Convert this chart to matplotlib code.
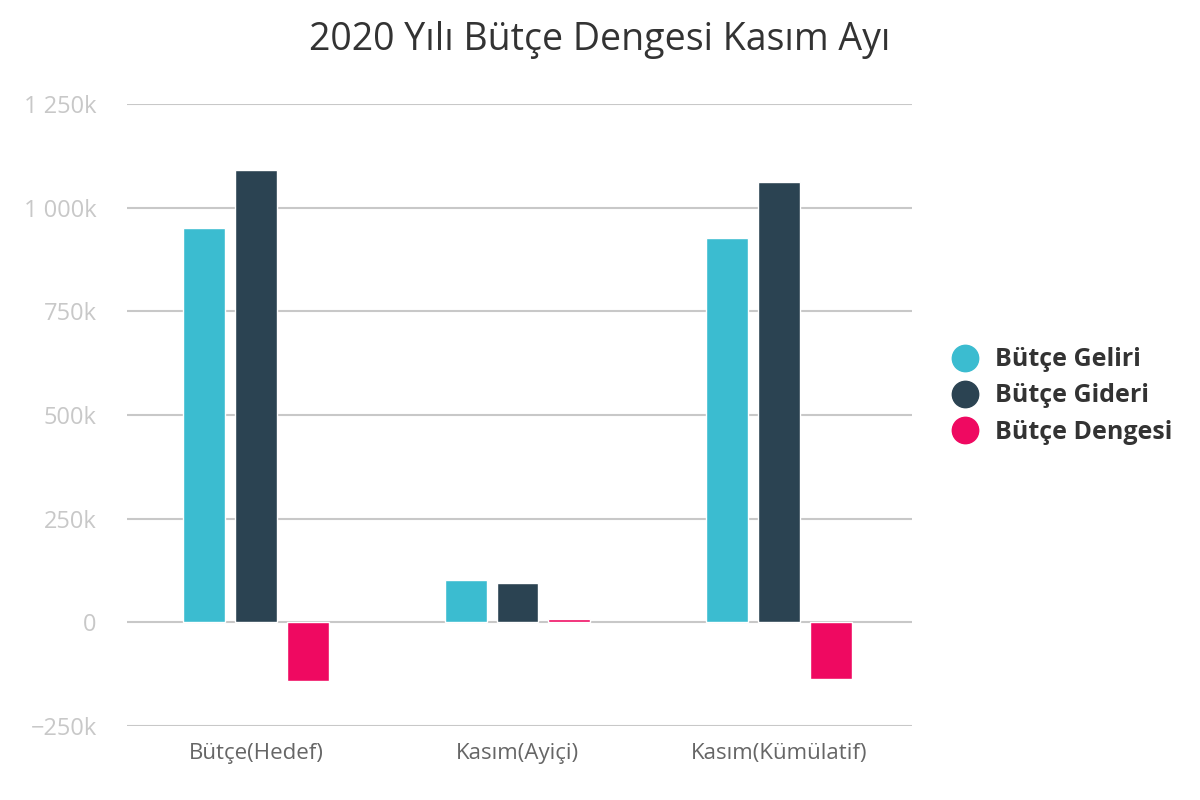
import numpy as np
import matplotlib.pyplot as plt
import matplotlib
from matplotlib.lines import Line2D

matplotlib.rcParams['font.family'] = ['Open Sans', 'DejaVu Sans']

categories = ['Bütçe(Hedef)', 'Kasım(Ayiçi)', 'Kasım(Kümülatif)']
series = ['Bütçe Geliri', 'Bütçe Gideri', 'Bütçe Dengesi']
gelir = [951, 102, 927]
gider = [1092, 94, 1063]
denge = [-141, 8, -136]
colors = ['#3bbcd0', '#2b4352', '#ef0961']
yticks = [-250, 0, 250, 500, 750, 1000, 1250]
ytick_labels = ['−250k', '0', '250k', '500k', '750k', '1 000k', '1 250k']

fig = plt.figure(figsize=(12, 8), dpi=100)
ax = fig.add_axes([0.106, 0.0925, 0.654, 0.7775])

x = np.arange(len(categories))
w = 42 / 262
step = 52 / 262
for i, (vals, c) in enumerate(zip([gelir, gider, denge], colors)):
    ax.bar(x + (i - 1) * step, vals, width=w, color=c, edgecolor='white',
           linewidth=1, zorder=3, label=series[i])

ax.set_xlim(-0.492, 2.508)
ax.set_ylim(-250, 1250)
ax.set_yticks(yticks)
ax.set_yticklabels(ytick_labels, color='#c8c8c8', fontsize=17)
ax.set_xticks(x)
ax.set_xticklabels(categories, color='#666666', fontsize=16)
ax.tick_params(axis='both', length=0)
ax.tick_params(axis='y', pad=22)
ax.tick_params(axis='x', pad=12)
ax.grid(axis='y', color='#c8c8c8', linewidth=1.5, zorder=0)
for s in ax.spines.values():
    s.set_visible(False)

fig.text(0.5, 0.95, '2020 Yılı Bütçe Dengesi Kasım Ayı', ha='center', va='center',
         fontsize=27, color='#333333')

handles = [Line2D([], [], marker='o', linestyle='', markersize=19, color=c) for c in colors]
leg = fig.legend(handles, series, loc='center left', bbox_to_anchor=(0.775, 0.505),
                 frameon=False, prop={'size': 18, 'weight': 'bold'},
                 handletextpad=0.2, labelspacing=0.45, borderaxespad=0)
for t in leg.get_texts():
    t.set_color('#333333')

fig.savefig('out.png', dpi=100)
